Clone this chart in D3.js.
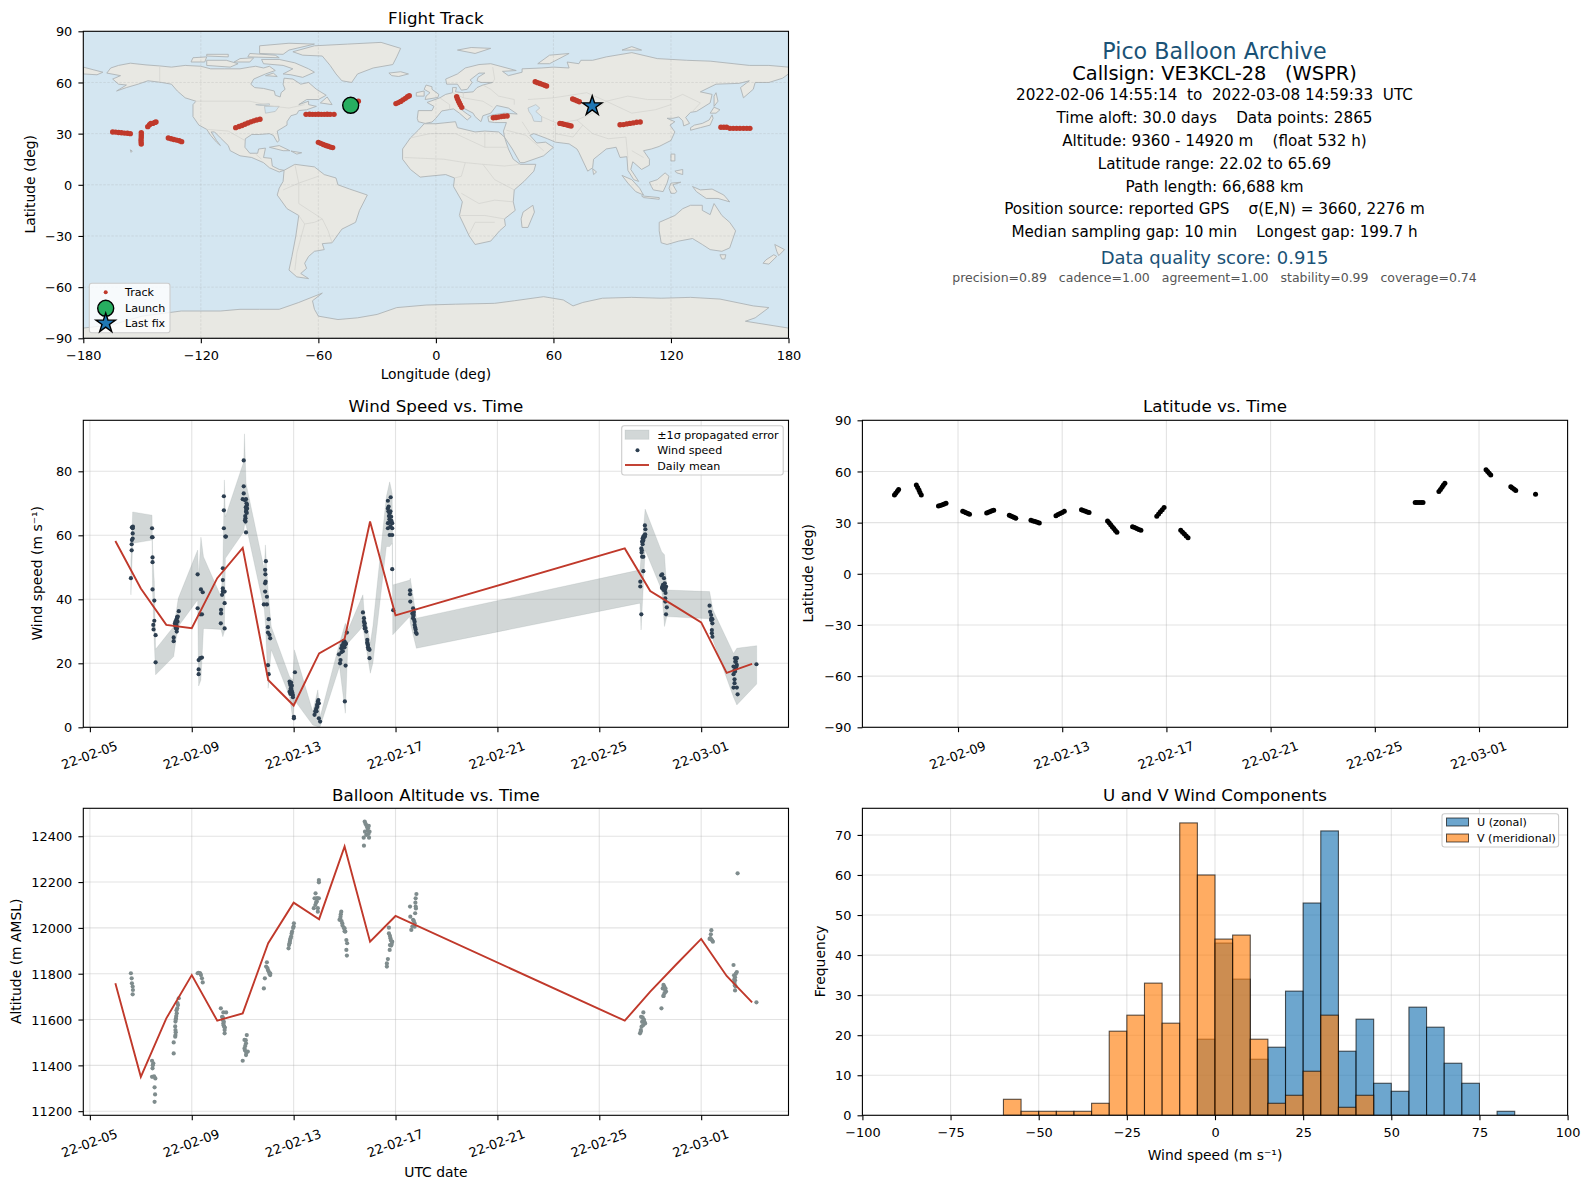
<!DOCTYPE html>
<html>
<head>
<meta charset="utf-8">
<script src="https://cdn.jsdelivr.net/npm/d3@7"></script>
<style>
    html, body { margin: 0; padding: 0; background: #fff; }
    svg text { font-family: "DejaVu Sans", sans-serif; fill: #000; }
</style>
</head>
<body>
<div id="chart"></div>
<script>
// time values below are days since 2022-02-05 00:00 UTC

// --- map data, [lon, lat] ---
const landPolys = [
    [[-168,65.5],[-166,68.5],[-162,70],[-156,71.3],[-148,70.3],[-141,69.7],[-135,69],[-128,70],[-120,69.5],[-115,68],[-108,68],[-100,68],[-95,69],[-92,69.5],[-88,68.5],[-85,69.5],[-82,67],[-87,65],[-93,62],[-94.5,59],[-92.5,57],[-88,56.5],[-82.5,55],[-82,52.5],[-79.5,51.5],[-79,54],[-77,56],[-78,59],[-77.5,62.5],[-73,62],[-69,59],[-65,60],[-61,56],[-56,52.5],[-60,50],[-66,50],[-70,47],[-65,49],[-65,47],[-61,46],[-66,44],[-70,43.5],[-71,41.5],[-74,40.5],[-76,37],[-76,35],[-81,31.5],[-80,26],[-81,25],[-83,29],[-85,30],[-90,29.5],[-94,29.5],[-97.3,27],[-97.5,22],[-95,18.5],[-91,18.5],[-90.5,21],[-87,21.5],[-88,16],[-84,15.5],[-83.5,11],[-80,9],[-77.5,8.5],[-80,7.5],[-85,10],[-88,13],[-94,16],[-100,17],[-105,20],[-106,23],[-110,27.5],[-113,31],[-114.7,31],[-112,26],[-110,23],[-112,25],[-115,29],[-117,32.5],[-121,35],[-124,40],[-124,47],[-122.5,49],[-128,51],[-132,55],[-135,59],[-140,60],[-147,61],[-152,59],[-158,57],[-163,55],[-158,58.5],[-162,59],[-165,62],[-161,64]],
    [[-62,66],[-68,63],[-74,64.5],[-78,65],[-73,68],[-78,70],[-88,71],[-89,73.5],[-80,73.5],[-72,71.5],[-65,68]],
    [[-117,70],[-105,69],[-101,71],[-107,73],[-117,73]],
    [[-90,77],[-78,76.5],[-75,79],[-62,82.5],[-75,83],[-90,81.5]],
    [[-125,72],[-118,72],[-117,75],[-124,74.5]],
    [[-96,75],[-80,74.5],[-82,76],[-95,77]],
    [[-103,72],[-95,72],[-93,74.5],[-100,74]],
    [[-117,75.5],[-106,75],[-106,76.5],[-117,76.5]],
    [[-59,48],[-53,47],[-55.5,51.5]],
    [[-87,64],[-81,63.5],[-83,65.5]],
    [[-73,78],[-68,76],[-58,75.5],[-54,70],[-51,65],[-48,61],[-43,60],[-40,65],[-32,68.5],[-22,70.5],[-20,75],[-18,80],[-28,83.5],[-45,82.5],[-62,81.5]],
    [[-24,65.5],[-18,66.3],[-14,65],[-19,63.5],[-22.5,64]],
    [[-85,22],[-80,23],[-74.5,20],[-78,20]],
    [[-74,19.8],[-68.5,18.8],[-71,18]],
    [[-156,20.5],[-155,19.8],[-155.6,19]],
    [[-77.5,8.5],[-72,12],[-62,10.5],[-57,6],[-51,4],[-50,0],[-44,-2.5],[-35,-6],[-39,-15],[-41,-22],[-48,-26],[-53,-34],[-58,-34.5],[-57,-38],[-62,-39],[-65,-42],[-67,-46],[-66,-49],[-69,-52],[-65,-55],[-71,-54],[-75,-50],[-73.5,-42],[-71.5,-30],[-70,-18],[-76,-14],[-81,-6],[-80,-2],[-78,2]],
    [[-17,15],[-17,21],[-13,27.5],[-9,32],[-6,35.8],[0,35.8],[10,37],[11,33.5],[20,31],[25,31.5],[32,31],[35,28],[37,21],[39.5,15],[43,12],[51,12],[50,8],[45,2],[40,-3],[39.5,-10],[40.5,-15],[35,-20],[35.5,-24],[32.5,-27],[28,-33],[20,-35],[17,-30],[12,-18],[13.5,-10],[9,-1],[9.5,4],[5,6],[-4,5],[-8,4.5],[-13,9]],
    [[49.5,-12],[50.3,-16],[47,-25],[44,-25],[43.5,-20],[44.5,-16]],
    [[-9,37],[-9.5,39],[-9,43.5],[-2,43.5],[-1,46],[-4.5,48.3],[2,51],[5,53],[8.5,54],[8.5,57],[10.5,57],[10,54.5],[14,54],[19,54.5],[21,57],[24,58.5],[29,60],[23,60],[21,61],[21.5,63],[25,65.5],[22,65.5],[17.5,61.5],[18.5,60],[16,56],[13,55.5],[11,59],[5.5,59],[5,62],[11,65],[15,68.5],[22,70.5],[28,71],[41,67],[34,66.5],[37,64],[44,66],[44,68],[54,68.5],[60,69],[68,68.5],[67,72],[73,71],[74,73],[80,73],[87,75],[100,77.5],[113,74],[128,73],[140,72.5],[160,70],[170,70],[180,69],[180,65],[177,62.5],[170,60],[163,60],[162,56],[157,51],[155.5,57],[160,61],[155,59.5],[143,59],[135,54.5],[141,53],[140,48],[133,43],[130,42.5],[127.5,39.5],[129.5,36],[126.5,34.5],[126,37.5],[124,39.8],[121,39],[118,39],[122,37],[119.5,35],[122,31],[120,26],[114,22.5],[110,21],[106,20],[109,15],[109,11.5],[105,9],[100.5,13.5],[99.5,9],[103.5,2],[101,3],[98,8.5],[97.5,16.5],[94,16],[92,22],[87,21],[80.5,15],[80,10],[77.5,8],[73,19],[72,21],[68,24],[61,25],[57,27],[50,30],[48,29],[51.5,24.5],[56,25],[60,22],[55,17],[45,13],[43,13],[39,21],[35,28],[34.5,31.5],[36,36.5],[30,36.5],[27,37],[26.5,40],[29,41],[35,42],[41.5,41.5],[37,45],[31,46.5],[28,42],[24,40.5],[23,37],[20,40],[19,42],[14,45],[12.5,44.5],[16,41.5],[18,40],[16,38],[12,42],[9,44.5],[3,43.3],[0,39],[-2,36.8],[-5.5,36]],
    [[-180,69],[-175,67.5],[-170,66],[-173,64.5],[-180,65]],
    [[-5.5,50],[1,51.2],[1.5,53],[-2,56],[-2,57.5],[-5,58.5],[-6,56],[-3,54],[-5,52]],
    [[-10,52],[-6,52],[-6,55],[-10,54]],
    [[11,79],[20,77],[28,80],[18,80.5]],
    [[52,71],[58,71],[68,77],[58,76]],
    [[95,79],[105,79],[100,81]],
    [[142,46],[144,49],[143,54],[142,52]],
    [[130,32],[135,33.5],[140,35],[141.5,39],[141,41],[139.5,38],[136,36],[132,35],[130,33.5]],
    [[140,42],[143,42],[145,44],[142,45.5]],
    [[120,18],[122,18],[122,14],[120,14]],
    [[122,8],[126,9],[126,6],[123,7]],
    [[95,5.5],[100,3],[104,-2],[106,-6],[102,-4],[98,1]],
    [[105,-6.5],[114,-7.5],[114,-8.5],[106,-7.5]],
    [[109,1.5],[113,3],[117,7],[119,5],[118,1],[116,-4],[111,-3],[110,-1]],
    [[120,1],[125,1.5],[121,0],[123,-4],[122,-5],[120,-5],[119,-2]],
    [[131,-1],[135,-3],[141,-2.5],[147,-6],[150,-10],[144,-8],[138,-8],[133,-4]],
    [[114,-22],[122,-18],[126,-14],[130,-12],[136,-12],[136,-15],[140,-17.5],[142,-11],[146,-18],[150,-22],[153,-27],[150,-37],[146,-39],[140,-38],[136,-35],[131,-31.5],[124,-33],[118,-35],[115,-34],[114,-27]],
    [[145,-41],[148,-41],[147.5,-43.5],[146,-43.5]],
    [[173,-35],[178,-38],[175,-41.5],[174,-39]],
    [[172.5,-41],[174,-42],[170,-46.5],[167,-46],[168.5,-44]],
    [[80,9.5],[82,7.5],[80.5,6]],
    [[-180,-90],[-180,-84],[-165,-82],[-150,-77],[-130,-74],[-110,-74],[-100,-73],[-90,-73],[-80,-73],[-70,-69],[-58,-63.5],[-63,-68],[-62,-73],[-60,-77],[-50,-79],[-40,-78],[-30,-76],[-20,-72],[-5,-70.5],[10,-70],[30,-69.5],[40,-68],[55,-65.6],[65,-67.5],[70,-71],[75,-69],[85,-66.5],[100,-66],[115,-66.5],[130,-66],[145,-67],[162,-71],[170,-72],[163,-78],[158,-80],[180,-84],[180,-90]]
];
const waterPolys = [
    [[47,45],[51,47],[53,45],[51,43],[54,40],[54,37],[50,37.3],[49,40.5],[47.5,43]],
    [[-92,47],[-85,47.5],[-85,46.5],[-90,46.5]],
    [[-87.5,46],[-80,46],[-82,43],[-87,42]]
];
const borderLines = [
    [[-141,60],[-141,69.7]],
    [[-123,49],[-95,49],[-83,46],[-75,45],[-67,47]],
    [[-117,32.5],[-106,31.5],[-97.5,26]],
    [[-92,18],[-89,15]],
    [[-72,12],[-70,1],[-70,-11],[-58,-20],[-55,-27],[-53,-34]],
    [[-60,5],[-70,1],[-78,-3]],
    [[-70,-18],[-67,-23],[-71,-40],[-72,-50]],
    [[-58,-20],[-62,-22],[-67,-23]],
    [[-13,27.5],[-3,30],[10,30],[25,22],[25,31.5]],
    [[25,22],[37,22]],
    [[-16,16],[4,15],[15,13],[24,12],[35,11],[43,12]],
    [[15,13],[13,5],[9.5,4]],
    [[24,12],[30,3],[40,-3]],
    [[13,-5],[22,-11],[30,-9],[39.5,-10]],
    [[12,-18],[25,-18],[35,-20]],
    [[17,-29],[20,-22],[30,-22]],
    [[2,51],[7,47],[7,44]],
    [[8.5,54],[14,51],[14,54]],
    [[14,51],[24,49],[29,45.5]],
    [[24,58.5],[28,56],[32,52],[40,50],[40,47]],
    [[29,69],[30,62],[29,60]],
    [[47,50],[60,51],[77,54],[87,49]],
    [[87,49],[100,42],[112,44],[120,47]],
    [[87,49],[98,52],[108,50],[120,50],[126,53],[135,48],[131,43]],
    [[75,35],[80,30],[88,27],[97,28]],
    [[75,35],[72,38],[80,42],[87,49]],
    [[54,40],[62,36],[72,38]],
    [[61,25],[61,36]],
    [[61,30],[70,28],[75,35]],
    [[44,37],[48,30]],
    [[36,32],[46,29],[55,20]],
    [[97,28],[98,16]],
    [[100,20],[106,16]]
];

const trackLon = [
    -165,-163.5,-162,-160.5,-159,-157.5,-156,
    -150.4,-150.4,-150.4,-150.5,-150.5,-150.4,
    -147.1,-146.2,-145.5,-144.5,-143.5,-142.9,
    -136.6,-135.2,-133.8,-132.4,-131,-129.8,
    -102.2,-100.5,-99,-97.5,-96,-94.5,-93,-91.5,-89.8,
    -66.3,-64.5,-63,-61.5,-60,-58.5,-57,-55.5,-54,-52,
    -60,-58.8,-57.5,-56.2,-55,-53.8,-52.7,
    -42,-40.5,-39.6,
    -20.4,-19.2,-18,-16.8,-15.6,-14.5,-13.6,
    10.6,11,11.5,12,12.5,13.2,
    29.3,30.7,32,33.4,34.8,36.4,
    50.7,51.9,53.1,54.3,55.5,56.5,
    63.3,64.5,65.7,67,68,69,
    69.8,70.8,72,73.2,
    94,95.7,97.4,99,100.7,102.5,104.3,
    145.5,147,148.4,
    150.1,151.8,153.5,155.2,157,158.7,160.3
];
const trackLat = [
    31,30.9,30.7,30.5,30.3,30.2,30,
    30.6,29.3,28,26.6,25.2,23.9,
    34.1,35.2,35.9,36,36.6,36.8,
    27.4,27,26.6,26.2,25.8,25.3,
    33.5,34.2,34.8,35.5,36.2,36.9,37.5,38,38.4,
    41.3,41.4,41.3,41.3,41.4,41.3,41.3,41.4,41.3,41.3,
    24.9,24.3,23.6,23,22.6,22.1,21.8,
    48,48.7,49,
    47.6,48.2,48.9,49.8,50.7,51.6,52.2,
    51.7,50.4,49.2,48,46.8,45.4,
    39.3,39.5,39.7,40,40.2,40.3,
    60.4,59.9,59.4,58.9,58.4,57.9,
    36,35.8,35.4,35.1,34.8,34.5,
    50.3,49.9,49.3,48.7,
    35.2,35.3,35.7,36,36.3,36.7,36.8,
    33.7,33.7,33.7,
    33.1,33.1,33.1,33.1,33.1,33.1,33.1
];
const launchPos = [-43.5, 46.6];
const lastFixPos = [79.8, 46.2];

// --- wind speed ---
const windT = [
    1.61,1.64,1.64,1.65,1.68,1.68,1.65,1.69,1.68,
    2.44,2.44,2.46,2.46,2.46,2.46,2.53,2.53,2.49,2.50,2.58,2.58,
    3.49,3.45,3.42,3.39,3.36,3.34,3.36,3.39,3.42,3.41,3.29,3.29,3.44,3.38,3.40,3.37,3.43,3.40,3.35,
    4.23,4.36,4.43,4.23,4.33,4.40,4.33,4.40,4.27,4.27,4.27,
    5.26,5.26,5.26,5.32,5.34,5.22,5.22,5.22,5.22,5.29,5.19,5.29,5.15,5.15,5.14,5.29,
    6.04,6.04,6.04,6.00,6.13,6.17,6.17,6.13,6.11,6.11,6.13,6.15,6.08,6.10,6.14,6.16,6.12,6.09,
    6.91,6.88,6.89,6.88,6.88,6.95,6.83,6.95,7.02,6.99,6.99,7.05,7.08,6.99,7.02,6.90,
    8.05,7.84,7.87,7.90,7.90,7.93,7.84,7.87,7.93,7.97,7.97,8.01,8.01,7.88,7.92,7.86,7.95,7.90,
    8.95,8.99,8.89,8.92,8.82,8.85,8.99,9.04,8.97,8.90,8.93,8.87,
    10.09,10.00,10.05,9.93,9.96,10.00,9.87,9.90,9.93,9.78,9.84,9.82,10.04,10.01,10.04,9.92,9.97,10.03,9.88,9.95,
    10.72,10.76,10.76,10.79,10.79,10.82,10.85,10.89,10.89,10.92,10.92,10.95,10.98,10.98,10.78,10.90,10.94,
    11.81,11.70,11.70,11.77,11.73,11.83,11.70,11.87,11.70,11.87,11.77,11.87,11.87,11.91,11.80,11.76,11.72,11.78,11.74,11.80,11.84,
    12.57,12.57,12.58,12.69,12.66,12.69,12.75,12.75,12.83,12.72,12.70,12.80,12.71,12.73,12.77,12.79,
    21.79,21.81,21.73,21.79,21.70,21.75,21.73,21.68,21.65,21.66,21.68,21.73,21.73,21.61,21.61,21.65,21.77,21.72,21.80,21.70,21.67,
    22.43,22.54,22.48,22.62,22.54,22.59,22.59,22.65,22.62,22.47,22.50,22.58,22.60,22.46,22.55,22.60,22.52,22.57,
    24.33,24.35,24.39,24.39,24.44,24.42,24.42,24.44,24.40,24.44,
    25.33,25.40,25.40,25.27,25.33,25.27,25.31,25.31,25.27,25.40,25.43,25.36,25.38,25.34,25.37,25.31,
    26.17
];
const windV = [
    46.6,55.3,57.2,58.5,59,60.6,62.5,62.7,62.2,
    62.2,59.4,59.4,53.1,51.6,43.1,39.6,33.3,32,30.6,28.8,20.3,
    36.3,34.6,34.1,33.5,33,32.5,32,31.5,30.9,29.9,28.1,26.9,33,31,32,31,34.5,33.2,31.8,
    47.8,43.1,42.2,37.2,35.3,35.3,21.6,21.8,21,18.1,16.6,
    72.2,67.8,62.2,59.6,59.6,49.7,46,43.4,42.4,42.4,41.4,38.8,36.7,35.6,32.5,30.9,
    83.4,75.3,73.1,71.3,71.3,69.5,68.4,67.4,65.3,64.3,60.9,70,71,66,68,67,68.8,64.7,
    51.9,49.2,47.8,45,42.4,40.8,38.4,38.4,33.8,31.3,29.6,28.9,27.8,19.4,16.6,45.5,
    17.2,14.3,13.2,12.2,14,13,11.1,10.5,11,10.1,9.4,3.3,2.8,12,11.5,13.8,10.8,10.4,
    8,7.5,5.9,7,3.9,4.9,2.8,1.8,8.5,5,6.4,5.2,
    29.6,26.8,26.2,25.7,26.5,25,24.7,25.5,23.8,22.8,21,20,19.3,8.1,26,25,27,26,23.5,25.8,
    35.9,34.1,33,32.5,30.9,31,29.9,27.3,26.5,25.7,25,24.6,24.2,21.6,31.8,26,24.4,
    71.9,70.8,68.4,66.9,69,65.8,63.8,63.8,62.2,62.2,60.1,60.1,49.4,36.6,67.5,65,67.5,64,66,62.8,64.5,
    42.8,41.6,39.3,37.2,35.6,34.1,33,32,29.2,36,34.8,29.6,35.2,33.6,31.2,30.6,
    63.1,61.9,59.6,59.6,59,59.3,58.5,58,55.9,54.6,53.3,53.3,48.8,45.5,44,35.3,60,58.2,60.3,57.2,55.3,
    47.5,46.6,44,44,42.9,40.3,39.3,37.5,35.3,47.8,44.5,43,43.5,43.5,44.2,42,43,45,
    38,36.1,35.1,33.5,32.5,30.4,29.4,28.3,34,33.8,
    21.6,21.6,19.5,19,17.4,16.6,15,13.8,12.4,12.4,10.3,20.5,19,20.5,18.4,17.9,
    19.7
];

// propagated error envelope
const bandT = [1.61,1.68,2.44,2.46,2.53,2.58,3.29,3.38,3.47,4.23,4.27,4.36,4.46,5.15,5.22,5.28,5.32,6.04,6.07,6.13,6.85,6.89,7.0,7.12,7.84,7.97,8.03,8.75,8.95,9.04,9.8,10.03,10.13,10.72,10.76,11.01,11.11,11.64,11.77,11.87,11.89,12.56,12.58,12.82,21.6,21.64,21.8,22.45,22.56,22.65,24.33,24.46,25.27,25.4,26.18];
const bandHi = [52.3,67.3,66.3,55.4,45.5,24.4,31.5,35.6,40.3,55.4,47.1,59.4,53.3,40.8,50.2,77.3,65.8,83,91.7,76.3,49.2,57,42.4,31.5,15.8,14.8,24.2,4.9,11.7,3.3,26.3,32.5,30.4,41.4,36.7,26.3,31.5,72.1,76.7,73.1,44.5,46,46.6,34.1,49.2,53.3,68.2,54.9,53.9,42.9,42.4,36.7,23.1,24.7,25.5];
const bandLo = [41.4,57.5,58.5,42.9,26.3,16.4,22.1,27.3,31.5,39.8,12.9,14.8,30.9,30.6,28.3,29.9,52.8,61.1,63.2,63.2,36.7,32.5,12.2,24.2,9.6,2.3,8.5,0.7,0.2,0.2,19,4.4,26.3,31.5,29.4,16.9,20,56.5,56.5,57.5,28.9,34.6,32.5,24.7,38.8,30.4,55.4,42.9,31.5,34.6,33.9,27.3,9.4,7,13.5];

const meanDayT = [1,2,3,4,5,6,7,8,9,10,11,12,21,22,23,24,25,26];
const windMean = [58.2,43.4,32,31,46.6,56.1,14.8,6.8,23.1,27.6,64.3,35,55.9,42.6,37.7,32.8,17,19.8];
const altMean = [11758,11350,11605,11794,11595,11627,11933,12110,12038,12355,11940,12052,11595,11722,11838,11952,11790,11675];

// --- altitude ---
const altT = [
    1.61,1.64,1.65,1.68,1.69,1.68,
    2.44,2.49,2.46,2.44,2.57,2.54,2.56,2.54,2.47,2.52,
    3.49,3.46,3.43,3.41,3.38,3.36,3.36,3.36,3.29,3.29,3.44,3.40,3.39,3.37,3.35,3.37,3.35,
    4.23,4.30,4.36,4.40,4.43,4.33,4.27,
    5.14,5.24,5.35,5.19,5.22,5.24,5.27,5.29,5.29,5.26,5.25,5.30,5.22,
    6.16,6.07,6.13,6.07,6.2,6.13,6.0,6.10,6.14,6.09,6.12,
    6.95,6.92,6.99,7.08,7.08,6.87,6.83,6.97,7.02,7.05,
    8.01,8.0,7.94,7.9,7.86,7.84,7.8,7.98,7.92,7.88,7.85,7.82,
    8.99,8.99,8.86,8.82,8.99,8.91,8.79,8.95,8.95,8.88,8.92,8.85,
    9.87,9.84,9.8,9.91,10,10.03,10.07,10.1,10.07,10.09,9.85,9.83,9.88,9.92,9.97,10.0,
    10.79,10.85,10.92,10.98,10.85,10.75,10.96,10.76,10.82,10.88,10.90,10.95,10.80,10.94,
    11.74,11.74,11.8,11.87,11.83,11.77,11.7,11.66,11.66,11.78,11.82,11.85,11.78,
    12.82,12.79,12.57,12.79,12.77,12.58,12.69,12.75,12.66,12.62,12.72,12.75,12.80,12.78,
    21.73,21.64,21.73,21.8,21.66,21.63,21.6,21.70,21.75,21.77,21.68,21.72,21.63,
    22.52,22.49,22.62,22.52,22.44,22.55,22.58,22.56,22.60,22.52,
    24.4,24.38,24.33,24.46,24.36,24.40,24.43,
    25.43,25.27,25.4,25.29,25.33,25.32,25.33,25.36,25.33,25.31,25.35,25.30,
    26.17
];
const altV = [
    11802,11780,11758,11744,11729,11710,
    11420,11409,11387,11350,11343,11304,11273,11241,11400,11352,
    11693,11663,11649,11627,11605,11591,11554,11532,11500,11452,11672,11640,11615,11600,11570,11545,11525,
    11802,11802,11794,11780,11762,11802,11804,
    11649,11631,11631,11612,11598,11583,11569,11554,11540,11590,11575,11565,11610,
    11532,11511,11496,11474,11460,11445,11420,11485,11455,11465,11510,
    11850,11831,11816,11802,11794,11780,11736,11825,11810,11800,
    12020,12006,11984,11962,11947,11933,11911,12000,11975,11955,11940,11925,
    12209,12199,12151,12129,12129,12115,12086,12086,12071,12110,12130,12100,
    12071,12049,12035,12020,11998,11984,11947,11933,11904,11879,12060,12040,12030,12010,12000,11985,
    12464,12449,12435,12420,12406,12394,12394,12359,12455,12440,12425,12445,12420,12410,
    12001,11976,11955,11940,11923,11904,11864,11845,11831,11965,11945,11930,11925,
    12148,12129,12093,12093,12064,12049,12035,12020,12006,11991,12030,12005,12085,12110,
    11631,11612,11598,11583,11569,11554,11540,11610,11600,11590,11590,11575,11548,
    11751,11736,11722,11703,11649,11745,11730,11715,11735,11703,
    11990,11972,11952,11940,11955,11950,11945,
    12238,11838,11807,11793,11771,11749,11727,11800,11785,11760,11745,11775,
    11675
];

// --- latitude ---
const latT = [
    1.56,1.61,1.67,1.72,
    2.40,2.45,2.50,2.54,2.59,
    3.25,3.32,3.40,3.47,3.54,
    4.18,4.25,4.31,4.38,4.44,
    5.10,5.17,5.24,5.30,5.37,
    5.97,6.03,6.10,6.16,6.22,
    6.80,6.88,6.96,7.04,7.12,
    7.76,7.84,7.92,8.00,8.08,
    8.74,8.81,8.89,8.96,9.03,
    9.74,9.80,9.86,9.92,9.98,10.04,10.10,
    10.70,10.78,10.86,10.94,11.02,
    11.63,11.70,11.77,11.84,11.91,
    12.55,12.62,12.69,12.76,12.83,
    21.55,21.62,21.70,21.78,21.85,
    22.46,22.52,22.58,22.63,22.69,
    24.27,24.33,24.39,24.45,
    25.22,25.28,25.35,25.41,
    26.17
];
const latV = [
    46.2,47.3,48.4,49.5,
    52.1,50.6,49.1,47.7,46.2,
    39.7,40.1,40.5,40.9,41.3,
    36.7,36.2,35.8,35.3,34.9,
    35.7,36.1,36.5,36.9,37.3,
    34.3,33.9,33.4,33,32.6,
    31.4,31,30.6,30.2,29.8,
    34.1,34.8,35.4,36,36.7,
    37.5,37.1,36.7,36.3,35.9,
    31,29.9,28.8,27.6,26.5,25.4,24.3,
    27.6,27.1,26.5,26,25.5,
    33.8,35.1,36.4,37.6,38.9,
    25.5,24.4,23.3,22.2,21.1,
    41.8,41.8,41.8,41.8,41.8,
    48.2,49.4,50.7,51.9,53.1,
    61,60,59,58,
    51.1,50.3,49.6,48.8,
    46.6
];

// --- histogram, 5 m/s bins, left edge in binEdges ---
const binEdges = [-60,-55,-50,-45,-40,-35,-30,-25,-20,-15,-10,-5,0,5,10,15,20,25,30,35,40,45,50,55,60,65,70,75,80];
const uCounts = [0,0,0,0,0,0,0,0,0,0,0,19,43,34,14,17,31,53,71,16,24,8,6,27,22,13,8,0,1];
const vCounts = [4,1,1,1,1,3,21,25,33,23,73,60,44,45,19,3,5,11,25,2,5,0,0,0,0,0,0,0,0];

const infoLines = [
    {text: "Pico Balloon Archive", y: 51, size: 22.2, color: "#1a5276"},
    {text: "Callsign: VE3KCL-28   (WSPR)", y: 73.5, size: 19.4, color: "#000"},
    {text: "2022-02-06 14:55:14  to  2022-03-08 14:59:33  UTC", y: 94.5, size: 15.2, color: "#000"},
    {text: "Time aloft: 30.0 days    Data points: 2865", y: 117.5, size: 15.2, color: "#000"},
    {text: "Altitude: 9360 - 14920 m    (float 532 h)", y: 140.5, size: 15.2, color: "#000"},
    {text: "Latitude range: 22.02 to 65.69", y: 163.5, size: 15.2, color: "#000"},
    {text: "Path length: 66,688 km", y: 186.5, size: 15.2, color: "#000"},
    {text: "Position source: reported GPS    σ(E,N) = 3660, 2276 m", y: 209, size: 15.2, color: "#000"},
    {text: "Median sampling gap: 10 min    Longest gap: 199.7 h", y: 232, size: 15.2, color: "#000"},
    {text: "Data quality score: 0.915", y: 257.5, size: 18, color: "#1a5276"},
    {text: "precision=0.89   cadence=1.00   agreement=1.00   stability=0.99   coverage=0.74", y: 277.5, size: 12.5, color: "#555"}
];

const tickDays = [0,4,8,12,16,20,24];
const altTicks = [11200,11400,11600,11800,12000,12200,12400];
const windTicks = [0,20,40,60,80];
const freqTicks = [0,10,20,30,40,50,60,70];
const uvTicks = [-100,-75,-50,-25,0,25,50,75,100];
const lonTicks = [-180,-120,-60,0,60,120,180];
const latTicks = [-90,-60,-30,0,30,60,90];

// colors
const red = "#c0392b", navy = "#2c3e50", slate = "#7f8c8d";
const gridStroke = "#b0b0b0";

// --- layout ---
const width = 1589, height = 1189;
const leftX = 83.3, rightX = 862.4, panelW = 705.2, panelH = 307;
const row1 = 31.3, row2 = 420.3, row3 = 808.3;
const tickFont = 12.9;

const svg = d3.select("#chart").append("svg")
    .attr("width", width).attr("height", height)
    .style("display", "block");

const toDate = t => new Date(Date.UTC(2022, 1, 5) + t * 864e5);
const minusFmt = v => String(v).replace("-", "\u2212");

function timeScale(x0, tMin, tMax) {
    const pad = (tMax - tMin) * 0.05;
    return d3.scaleUtc()
        .domain([toDate(tMin - pad), toDate(tMax + pad)])
        .range([x0, x0 + panelW]);
}

// draws grid, ticks and spine of a panel, marks get added to the returned group
function makePanel(x0, y0, h, xScale, yScale, xTicks, yTicks, xFmt, yFmt, rotate) {
    const g = svg.append("g");
    const marks = g.append("g");
    const clipId = `clip-${Math.round(x0)}-${Math.round(y0)}`;
    svg.append("clipPath").attr("id", clipId).append("rect")
        .attr("x", x0).attr("y", y0).attr("width", panelW).attr("height", h);
    marks.attr("clip-path", `url(#${clipId})`);

    const grid = marks.append("g");
    grid.selectAll("line.gx").data(xTicks).join("line")
        .attr("x1", d => xScale(d)).attr("x2", d => xScale(d))
        .attr("y1", y0).attr("y2", y0 + h);
    grid.selectAll("line.gy").data(yTicks).join("line")
        .attr("x1", x0).attr("x2", x0 + panelW)
        .attr("y1", d => yScale(d)).attr("y2", d => yScale(d));
    grid.selectAll("line")
        .attr("stroke", gridStroke).attr("stroke-opacity", 0.35).attr("stroke-width", 1.1);

    const top = g.append("g");
    const axX = top.append("g").attr("transform", `translate(0,${y0 + h})`)
        .call(d3.axisBottom(xScale).tickValues(xTicks).tickFormat(xFmt).tickSize(4.9).tickSizeOuter(0));
    const axY = top.append("g").attr("transform", `translate(${x0},0)`)
        .call(d3.axisLeft(yScale).tickValues(yTicks).tickFormat(yFmt).tickSize(4.9).tickSizeOuter(0));
    [axX, axY].forEach(a => {
        a.select(".domain").remove();
        a.selectAll("line").attr("stroke", "#000").attr("stroke-width", 1.1);
        a.selectAll("text").attr("font-size", tickFont).attr("font-family", "DejaVu Sans").attr("fill", "#000");
    });
    axY.selectAll("text").attr("x", -11).attr("dy", "0.36em");
    axX.selectAll("text").attr("y", 12.5);
    if (rotate) {
        // centred under the tick, like a rotated matplotlib label
        axX.selectAll("text")
            .attr("y", 0)
            .attr("text-anchor", "middle")
            .attr("dy", "0.36em")
            .attr("transform", "translate(-1,27.7) rotate(-20)");
    }
    top.append("rect")
        .attr("x", x0).attr("y", y0).attr("width", panelW).attr("height", h)
        .attr("fill", "none").attr("stroke", "#000").attr("stroke-width", 1.1);

    return {marks, top};
}

function addTitle(x0, y, text) {
    svg.append("text").attr("x", x0 + panelW / 2).attr("y", y)
        .attr("text-anchor", "middle").attr("font-size", 16.7).text(text);
}
function addXLabel(x0, y, text) {
    svg.append("text").attr("x", x0 + panelW / 2).attr("y", y)
        .attr("text-anchor", "middle").attr("font-size", 13.9).text(text);
}
function addYLabel(x, yc, text) {
    svg.append("text").attr("transform", `translate(${x},${yc}) rotate(-90)`)
        .attr("text-anchor", "middle").attr("font-size", 13.9).text(text);
}
function legendBox(x, y, w, h) {
    svg.append("rect").attr("x", x).attr("y", y).attr("width", w).attr("height", h).attr("rx", 2.5)
        .attr("fill", "#fff").attr("fill-opacity", 0.8).attr("stroke", "#ccc").attr("stroke-width", 1.1);
}
function legendText(x, y, text) {
    svg.append("text").attr("x", x).attr("y", y).attr("dy", "0.36em")
        .attr("font-size", 11.1).attr("fill", "#222").text(text);
}

// --- flight track map ---
{
    const x = d3.scaleLinear().domain([-180, 180]).range([leftX, leftX + panelW]);
    const y = d3.scaleLinear().domain([-90, 90]).range([row1 + panelH, row1]);
    const p = makePanel(leftX, row1, panelH, x, y, lonTicks, latTicks, minusFmt, minusFmt, false);
    const path = d3.line().x(d => x(d[0])).y(d => y(d[1]));
    const ring = d3.line().x(d => x(d[0])).y(d => y(d[1])).curve(d3.curveLinearClosed);

    const base = p.marks.insert("g", ":first-child");
    base.append("rect").attr("x", leftX).attr("y", row1).attr("width", panelW).attr("height", panelH).attr("fill", "#d4e6f1");
    base.selectAll("path.land").data(landPolys).join("path").attr("class", "land")
        .attr("d", ring).attr("fill", "#e8e8e3").attr("stroke", "#aeb3b5").attr("stroke-width", 0.9);
    base.selectAll("path.water").data(waterPolys).join("path").attr("class", "water")
        .attr("d", ring).attr("fill", "#d4e6f1").attr("stroke", "#aeb3b5").attr("stroke-width", 0.6);
    base.selectAll("path.border").data(borderLines).join("path").attr("class", "border")
        .attr("d", path).attr("fill", "none").attr("stroke", "#d2d2ce").attr("stroke-width", 0.7);

    // map grid is dashed
    p.marks.selectAll("g > line").attr("stroke-dasharray", "2.5,1.5").attr("stroke", "#999").attr("stroke-opacity", 0.3).attr("stroke-width", 0.7);

    p.marks.append("g").selectAll("circle").data(d3.range(trackLon.length)).join("circle")
        .attr("cx", i => x(trackLon[i])).attr("cy", i => y(trackLat[i]))
        .attr("r", 2.7).attr("fill", red);

    p.marks.append("circle").attr("cx", x(launchPos[0])).attr("cy", y(launchPos[1])).attr("r", 8)
        .attr("fill", "#27ae60").attr("stroke", "#000").attr("stroke-width", 1.4);
    const star = d3.symbol().type(d3.symbolStar).size(118);
    p.marks.append("path").attr("d", star())
        .attr("transform", `translate(${x(lastFixPos[0])},${y(lastFixPos[1])})`)
        .attr("fill", "#1f77b4").attr("stroke", "#000").attr("stroke-width", 1.4);

    addTitle(leftX, 24.3, "Flight Track");
    addXLabel(leftX, 379, "Longitude (deg)");
    addYLabel(35, row1 + 153, "Latitude (deg)");

    legendBox(89.3, 283.3, 80.7, 49.4);
    svg.append("circle").attr("cx", 105.7).attr("cy", 292.3).attr("r", 2).attr("fill", red);
    svg.append("circle").attr("cx", 105.7).attr("cy", 308.3).attr("r", 8).attr("fill", "#27ae60").attr("stroke", "#000").attr("stroke-width", 1.4);
    svg.append("path").attr("d", star()).attr("transform", "translate(105.7,323.3)").attr("fill", "#1f77b4").attr("stroke", "#000").attr("stroke-width", 1.4);
    legendText(125, 292.3, "Track");
    legendText(125, 308.3, "Launch");
    legendText(125, 323.3, "Last fix");
}

// --- info panel ---
svg.append("g").selectAll("text").data(infoLines).join("text")
    .attr("x", 1214.5).attr("y", d => d.y).attr("dy", "0.36em")
    .attr("text-anchor", "middle")
    .attr("font-size", d => d.size)
    .style("fill", d => d.color)
    .style("white-space", "pre")
    .text(d => d.text);

// --- wind speed vs time ---
{
    const x = timeScale(leftX, d3.min(meanDayT), d3.max(windT));
    const y = d3.scaleLinear().domain([0, 95.94]).range([row2 + panelH, row2]);
    const ticks = tickDays.map(toDate);
    const p = makePanel(leftX, row2, panelH, x, y, ticks, windTicks, d3.utcFormat("%y-%m-%d"), d3.format("d"), true);

    const band = d3.area().x(i => x(toDate(bandT[i]))).y0(i => y(bandLo[i])).y1(i => y(bandHi[i]));
    p.marks.append("path").attr("d", band(d3.range(bandT.length)))
        .attr("fill", slate).attr("fill-opacity", 0.35).attr("stroke", slate).attr("stroke-opacity", 0.15);
    p.marks.append("g").selectAll("circle").data(d3.range(windT.length)).join("circle")
        .attr("cx", i => x(toDate(windT[i]))).attr("cy", i => y(windV[i]))
        .attr("r", 2.1).attr("fill", navy);
    const meanLine = d3.line().x(i => x(toDate(meanDayT[i]))).y(i => y(windMean[i]));
    p.marks.append("path").attr("d", meanLine(d3.range(meanDayT.length)))
        .attr("fill", "none").attr("stroke", red).attr("stroke-width", 1.9);

    addTitle(leftX, 412.3, "Wind Speed vs. Time");
    addYLabel(42, row2 + 153, "Wind speed (m s\u207B\u00B9)");

    legendBox(621.7, 425.7, 161.5, 49.3);
    svg.append("rect").attr("x", 625).attr("y", 430).attr("width", 24).attr("height", 9.3).attr("fill", slate).attr("fill-opacity", 0.35).attr("stroke", slate).attr("stroke-opacity", 0.15);
    svg.append("circle").attr("cx", 637.5).attr("cy", 450.3).attr("r", 2).attr("fill", navy);
    svg.append("line").attr("x1", 625).attr("x2", 649).attr("y1", 465).attr("y2", 465).attr("stroke", red).attr("stroke-width", 1.9);
    legendText(657.3, 435, "\u00B11\u03C3 propagated error");
    legendText(657.3, 450.3, "Wind speed");
    legendText(657.3, 466, "Daily mean");
}

// --- latitude vs time ---
{
    const x = timeScale(rightX, d3.min(latT), d3.max(latT));
    const y = d3.scaleLinear().domain([-90, 90]).range([row2 + panelH, row2]);
    const ticks = tickDays.slice(1).map(toDate);
    const p = makePanel(rightX, row2, panelH, x, y, ticks, latTicks, d3.utcFormat("%y-%m-%d"), minusFmt, true);
    p.marks.append("g").selectAll("circle").data(d3.range(latT.length)).join("circle")
        .attr("cx", i => x(toDate(latT[i]))).attr("cy", i => y(latV[i]))
        .attr("r", 2.5).attr("fill", "#000");
    addTitle(rightX, 412.3, "Latitude vs. Time");
    addYLabel(813, row2 + 153, "Latitude (deg)");
}

// --- altitude vs time ---
{
    const x = timeScale(leftX, d3.min(meanDayT), d3.max(altT));
    const y = d3.scaleLinear().domain([11182, 12522]).range([row3 + panelH, row3]);
    const ticks = tickDays.map(toDate);
    const p = makePanel(leftX, row3, panelH, x, y, ticks, altTicks, d3.utcFormat("%y-%m-%d"), d3.format("d"), true);
    p.marks.append("g").selectAll("circle").data(d3.range(altT.length)).join("circle")
        .attr("cx", i => x(toDate(altT[i]))).attr("cy", i => y(altV[i]))
        .attr("r", 2.1).attr("fill", slate);
    const meanLine = d3.line().x(i => x(toDate(meanDayT[i]))).y(i => y(altMean[i]));
    p.marks.append("path").attr("d", meanLine(d3.range(meanDayT.length)))
        .attr("fill", "none").attr("stroke", red).attr("stroke-width", 1.9);
    addTitle(leftX, 801.3, "Balloon Altitude vs. Time");
    addYLabel(21, row3 + 153, "Altitude (m AMSL)");
    addXLabel(leftX, 1177, "UTC date");
}

// --- U and V histogram ---
{
    const x = d3.scaleLinear().domain([-100, 100]).range([rightX, rightX + panelW]);
    const y = d3.scaleLinear().domain([0, 76.65]).range([row3 + panelH, row3]);
    const p = makePanel(rightX, row3, panelH, x, y, uvTicks, freqTicks, minusFmt, d3.format("d"), false);

    function drawBars(counts, color) {
        p.marks.append("g").selectAll("rect").data(d3.range(binEdges.length).filter(i => counts[i] > 0)).join("rect")
            .attr("x", i => x(binEdges[i]))
            .attr("width", i => x(binEdges[i] + 5) - x(binEdges[i]))
            .attr("y", i => y(counts[i]))
            .attr("height", i => y(0) - y(counts[i]))
            .attr("fill", color).attr("fill-opacity", 0.65)
            .attr("stroke", "#000").attr("stroke-opacity", 0.65).attr("stroke-width", 1.1);
    }
    drawBars(uCounts, "#1f77b4");
    drawBars(vCounts, "#ff7f0e");

    addTitle(rightX, 801.3, "U and V Wind Components");
    addYLabel(825, row3 + 153, "Frequency");
    addXLabel(rightX, 1160, "Wind speed (m s\u207B\u00B9)");

    legendBox(1442, 813.7, 116.6, 33.3);
    svg.append("rect").attr("x", 1446.5).attr("y", 818).attr("width", 22).attr("height", 8).attr("fill", "#1f77b4").attr("fill-opacity", 0.65).attr("stroke", "#000").attr("stroke-opacity", 0.65);
    svg.append("rect").attr("x", 1446.5).attr("y", 834).attr("width", 22).attr("height", 8).attr("fill", "#ff7f0e").attr("fill-opacity", 0.65).attr("stroke", "#000").attr("stroke-opacity", 0.65);
    legendText(1477, 822.5, "U (zonal)");
    legendText(1477, 838.5, "V (meridional)");
}
</script>
</body>
</html>
